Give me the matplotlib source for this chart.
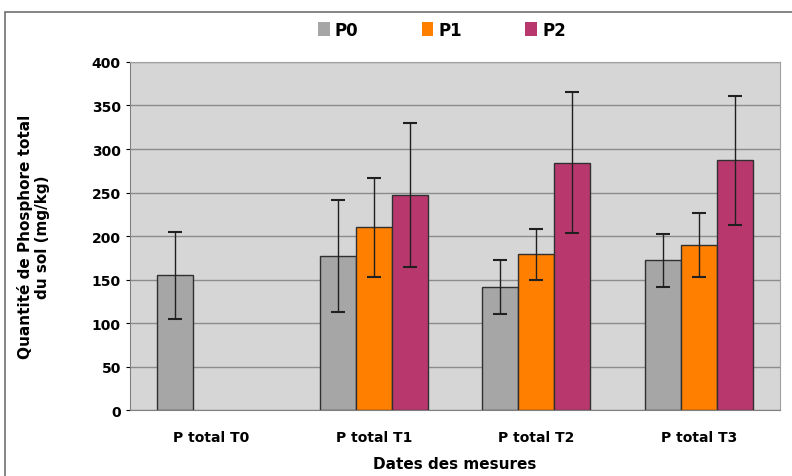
import numpy as np
import matplotlib.pyplot as plt
from matplotlib.patches import Rectangle, Patch

categories = ['P total T0', 'P total T1', 'P total T2', 'P total T3']
series = ['P0', 'P1', 'P2']
p0_vals = [155, 177, 141, 172]
p1_vals = [np.nan, 210, 179, 190]
p2_vals = [np.nan, 247, 284, 287]
p0_err = [50, 64, 31, 30]
p1_err = [np.nan, 57, 29, 37]
p2_err = [np.nan, 83, 81, 74]
colors = ['#A6A6A6', '#FF7F00', '#B8386E']

fig = plt.figure(figsize=(7.92, 4.77), dpi=100)
ax = fig.add_axes([0.164, 0.138, 0.821, 0.73])
ax.set_facecolor('#D6D6D6')

x = np.arange(len(categories))
w = 0.222
vals = [p0_vals, p1_vals, p2_vals]
errs = [p0_err, p1_err, p2_err]
for i, (v, e) in enumerate(zip(vals, errs)):
    ax.bar(x + (i - 1) * w, v, w, color=colors[i], edgecolor='#303030',
           linewidth=1.0, zorder=3)
    ax.errorbar(x + (i - 1) * w, v, yerr=e, fmt='none', ecolor='#202020',
                elinewidth=1.0, capsize=5, capthick=1.5, zorder=4)

ax.set_ylim(0, 400)
ax.set_xlim(-0.5, 3.5)
ax.set_yticks(range(0, 401, 50))
ax.set_xticks(x)
ax.set_xticklabels(categories)
ax.yaxis.grid(True, color='#8C8C8C', linewidth=1.0, zorder=0)
for s in ['top', 'right']:
    ax.spines[s].set_color('#A0A0A0')
ax.spines['left'].set_color('#808080')
ax.spines['bottom'].set_color('#808080')
ax.tick_params(axis='both', labelsize=10, length=3, colors='#000000')
ax.tick_params(axis='x', length=0, pad=14)
for lab in ax.get_xticklabels() + ax.get_yticklabels():
    lab.set_fontweight('bold')

ax.set_ylabel('Quantité de Phosphore total\ndu sol (mg/kg)', fontsize=11,
              fontweight='bold', labelpad=30)
ax.set_xlabel('Dates des mesures', fontsize=11, fontweight='bold', labelpad=9)

handles = [Patch(facecolor=c, edgecolor='none', label=s) for c, s in zip(colors, series)]
fig.legend(handles=handles, loc='upper center', bbox_to_anchor=(0.558, 0.985), ncol=3,
           frameon=False, handlelength=0.7, handleheight=0.9,
           columnspacing=3.8, handletextpad=0.3,
           prop={'weight': 'bold', 'size': 12})

fig.patches.append(Rectangle((0.006, -0.01), 1.2, 0.983, transform=fig.transFigure,
                             fill=False, edgecolor='#707070', linewidth=1.2))

fig.savefig('out.png', dpi=100)
